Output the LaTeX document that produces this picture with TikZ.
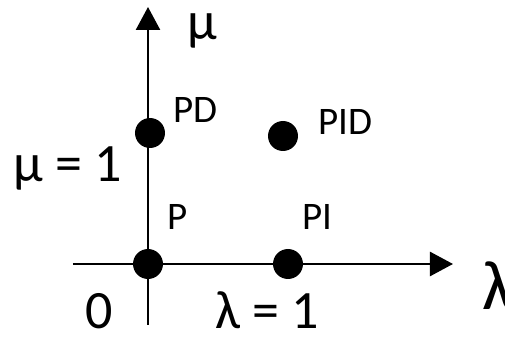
\documentclass[tikz,border=0pt]{standalone}
\usepackage{fontspec}
\setmainfont{Carlito}
\usetikzlibrary{arrows.meta}

\begin{document}
\begin{tikzpicture}[x=0.5pt,y=0.5pt,
    axis/.style={line width=1.3pt,-{Triangle[width=12pt,length=11.5pt]}},
    dot/.style={circle,fill=black,inner sep=0pt,minimum size=15pt},
    biglabel/.style={font=\fontsize{27}{30}\selectfont,anchor=base west,inner sep=0pt},
    ctrllabel/.style={font=\fontsize{19.5}{22}\selectfont,anchor=base west,inner sep=0pt}]
  \useasboundingbox (0,0) rectangle (505,338);
  % axes
  \coordinate (xstart) at (73,74);
  \coordinate (xend) at (453,74);
  \coordinate (ystart) at (148,13);
  \coordinate (yend) at (148,331);
  \draw[axis] (xstart) -- (xend);
  \draw[axis] (ystart) -- (yend);
  % controller types
  \node[dot] (p) at (148,74) {};
  \node[dot] (pi) at (288,74) {};
  \node[dot] (pd) at (150,205) {};
  \node[dot] (pid) at (283,202) {};
  \node[ctrllabel] (plabel) at (167,108) {P};
  \node[ctrllabel] (pilabel) at (302,108) {PI};
  \node[ctrllabel] (pdlabel) at (173,215) {PD};
  \node[ctrllabel] (pidlabel) at (318,203) {PID};
  % axis labels and values
  \node[biglabel] (mu) at (187,298) {μ};
  \node[biglabel,font=\fontsize{35}{40}\selectfont] (lambda) at (482,28) {λ};
  \node[biglabel] (zero) at (85,9) {0};
  \node[biglabel] (lambdaone) at (215,9) {λ = 1};
  \node[biglabel] (muone) at (13,156) {μ = 1};
\end{tikzpicture}
\end{document}
